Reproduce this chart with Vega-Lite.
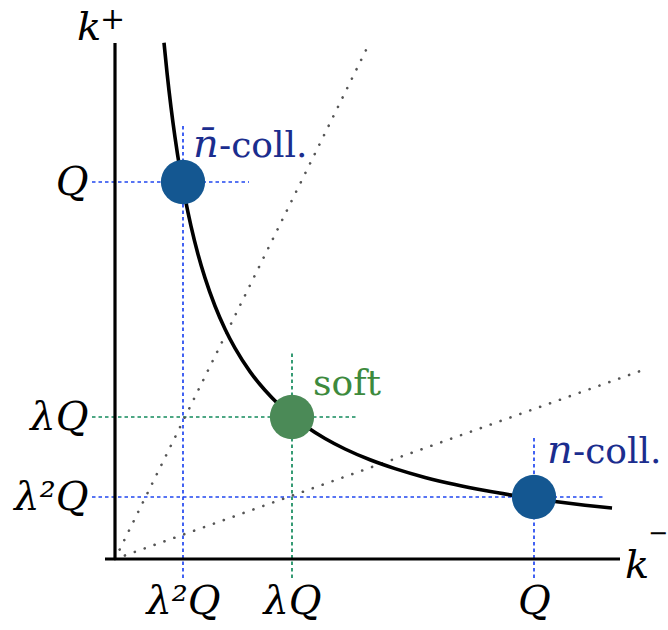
{
  "$schema": "https://vega.github.io/schema/vega-lite/v6.json",
  "autosize": "none",
  "width": 553,
  "height": 559,
  "padding": {"left": 115, "top": 0, "right": 0, "bottom": 71},
  "background": "white",
  "config": {"view": {"stroke": null}},
  "datasets": {
    "guides": [
      {"mode": "nbar", "x": 68, "y": -19, "x2": 68, "y2": 436},
      {"mode": "nbar", "x": -23, "y": 377, "x2": 134, "y2": 377},
      {"mode": "soft", "x": 177, "y": -19, "x2": 177, "y2": 207},
      {"mode": "soft", "x": -23, "y": 142, "x2": 243, "y2": 142},
      {"mode": "n", "x": 419, "y": -19, "x2": 419, "y2": 121},
      {"mode": "n", "x": -23, "y": 62, "x2": 488, "y2": 62}
    ],
    "rays": [
      {"ray": "steep", "x": 0, "y": 0, "x2": 254, "y2": 515},
      {"ray": "shallow", "x": 0, "y": 0, "x2": 528, "y2": 189}
    ],
    "axes": [
      {"axis": "k-", "x": -10, "y": 0, "x2": 505, "y2": 0},
      {"axis": "k+", "x": 0, "y": 0, "x2": 0, "y2": 516}
    ],
    "curve": [
      {"km": 49, "kp": 516.3}, {"km": 52, "kp": 486.5}, {"km": 56, "kp": 451.8},
      {"km": 60, "kp": 421.7}, {"km": 65, "kp": 389.2}, {"km": 70, "kp": 361.4},
      {"km": 76, "kp": 332.9}, {"km": 83, "kp": 304.8}, {"km": 90, "kp": 281.1},
      {"km": 100, "kp": 253}, {"km": 110, "kp": 230}, {"km": 120, "kp": 210.8},
      {"km": 135, "kp": 187.4}, {"km": 150, "kp": 168.7}, {"km": 165, "kp": 153.3},
      {"km": 177, "kp": 142.9}, {"km": 190, "kp": 133.2}, {"km": 210, "kp": 120.5},
      {"km": 230, "kp": 110}, {"km": 255, "kp": 99.2}, {"km": 280, "kp": 90.4},
      {"km": 310, "kp": 81.6}, {"km": 340, "kp": 74.4}, {"km": 370, "kp": 68.4},
      {"km": 400, "kp": 63.3}, {"km": 419, "kp": 60.4}, {"km": 440, "kp": 57.5},
      {"km": 470, "kp": 53.8}, {"km": 497, "kp": 50.9}
    ],
    "modes": [
      {"mode": "nbar", "km": 68, "kp": 377},
      {"mode": "soft", "km": 177, "kp": 142},
      {"mode": "n", "km": 419, "kp": 62}
    ],
    "mathLabels": [
      {"mode": "nbar", "text": "n̄", "x": 78, "y": 402},
      {"mode": "n", "text": "n", "x": 432, "y": 96},
      {"mode": "axis", "text": "k", "x": -38, "y": 519},
      {"mode": "axis", "text": "k", "x": 510, "y": -19}
    ],
    "wordLabels": [
      {"mode": "nbar", "text": "-coll.", "x": 104, "y": 402},
      {"mode": "n", "text": "-coll.", "x": 458, "y": 96},
      {"mode": "soft", "text": "soft", "x": 198, "y": 164}
    ],
    "supLabels": [
      {"text": "+", "x": -15, "y": 530}
    ],
    "supRight": [
      {"text": "−", "x": 553, "y": 18}
    ]
  },
  "encoding": {
    "x": {"type": "quantitative", "scale": {"domain": [0, 553], "nice": false, "zero": false}},
    "y": {"type": "quantitative", "scale": {"domain": [0, 559], "nice": false, "zero": false}}
  },
  "layer": [
    {
      "data": {"name": "guides"},
      "mark": {"type": "rule", "strokeWidth": 1.7, "strokeDash": [3.5, 3]},
      "encoding": {
        "x": {"field": "x", "type": "quantitative", "axis": {"values": [68, 177, 419], "labelExpr": "datum.value == 68 ? 'λ²Q' : datum.value == 177 ? 'λQ' : 'Q'", "domain": false, "ticks": false, "tickSize": 0, "grid": false, "title": null, "labelFont": "DejaVu Serif", "labelFontStyle": "italic", "labelFontSize": 40, "labelColor": "black", "labelPadding": 22, "labelFlush": false, "labelOverlap": false}},
        "y": {"field": "y", "type": "quantitative", "axis": {"values": [62, 142, 377], "labelExpr": "datum.value == 62 ? 'λ²Q' : datum.value == 142 ? 'λQ' : 'Q'", "domain": false, "ticks": false, "tickSize": 0, "grid": false, "title": null, "labelFont": "DejaVu Serif", "labelFontStyle": "italic", "labelFontSize": 40, "labelColor": "black", "labelPadding": 27, "labelFlush": false, "labelOverlap": false}},
        "x2": {"field": "x2"},
        "y2": {"field": "y2"},
        "color": {"field": "mode", "type": "nominal", "legend": null, "scale": {"domain": ["nbar", "soft", "n"], "range": ["#2147f0", "#138a5c", "#2147f0"]}}
      }
    },
    {
      "data": {"name": "rays"},
      "mark": {"type": "rule", "strokeWidth": 2.6, "strokeDash": [0.1, 10.4], "strokeCap": "round", "color": "#555555"},
      "encoding": {
        "x": {"field": "x", "type": "quantitative"},
        "y": {"field": "y", "type": "quantitative"},
        "x2": {"field": "x2"},
        "y2": {"field": "y2"}
      }
    },
    {
      "data": {"name": "axes"},
      "mark": {"type": "rule", "strokeWidth": 3.2, "color": "black"},
      "encoding": {
        "x": {"field": "x", "type": "quantitative"},
        "y": {"field": "y", "type": "quantitative"},
        "x2": {"field": "x2"},
        "y2": {"field": "y2"}
      }
    },
    {
      "data": {"name": "curve"},
      "mark": {"type": "line", "strokeWidth": 3.6, "color": "black", "interpolate": "monotone"},
      "encoding": {
        "x": {"field": "km", "type": "quantitative"},
        "y": {"field": "kp", "type": "quantitative"}
      }
    },
    {
      "data": {"name": "modes"},
      "mark": {"type": "circle", "size": 1960, "opacity": 1},
      "encoding": {
        "x": {"field": "km", "type": "quantitative"},
        "y": {"field": "kp", "type": "quantitative"},
        "color": {"field": "mode", "type": "nominal", "legend": null, "scale": {"domain": ["nbar", "soft", "n"], "range": ["#145791", "#4b8a57", "#145791"]}}
      }
    },
    {
      "data": {"name": "mathLabels"},
      "mark": {"type": "text", "font": "DejaVu Serif", "fontStyle": "italic", "fontSize": 40, "align": "left", "baseline": "alphabetic"},
      "encoding": {
        "x": {"field": "x", "type": "quantitative"},
        "y": {"field": "y", "type": "quantitative"},
        "text": {"field": "text"},
        "color": {"field": "mode", "type": "nominal", "legend": null, "scale": {"domain": ["nbar", "n", "axis"], "range": ["#1b2d8e", "#1b2d8e", "#000000"]}}
      }
    },
    {
      "data": {"name": "wordLabels"},
      "mark": {"type": "text", "font": "DejaVu Serif", "fontSize": 36, "align": "left", "baseline": "alphabetic"},
      "encoding": {
        "x": {"field": "x", "type": "quantitative"},
        "y": {"field": "y", "type": "quantitative"},
        "text": {"field": "text"},
        "color": {"field": "mode", "type": "nominal", "legend": null, "scale": {"domain": ["nbar", "n", "soft"], "range": ["#1b2d8e", "#1b2d8e", "#3d8a3d"]}}
      }
    },
    {
      "data": {"name": "supLabels"},
      "mark": {"type": "text", "font": "DejaVu Serif", "fontSize": 30, "align": "left", "baseline": "alphabetic", "color": "black"},
      "encoding": {
        "x": {"field": "x", "type": "quantitative"},
        "y": {"field": "y", "type": "quantitative"},
        "text": {"field": "text"}
      }
    },
    {
      "data": {"name": "supRight"},
      "mark": {"type": "text", "font": "DejaVu Serif", "fontSize": 24, "align": "right", "baseline": "alphabetic", "color": "black"},
      "encoding": {
        "x": {"field": "x", "type": "quantitative"},
        "y": {"field": "y", "type": "quantitative"},
        "text": {"field": "text"}
      }
    }
  ],
  "resolve": {"scale": {"color": "independent"}}
}
